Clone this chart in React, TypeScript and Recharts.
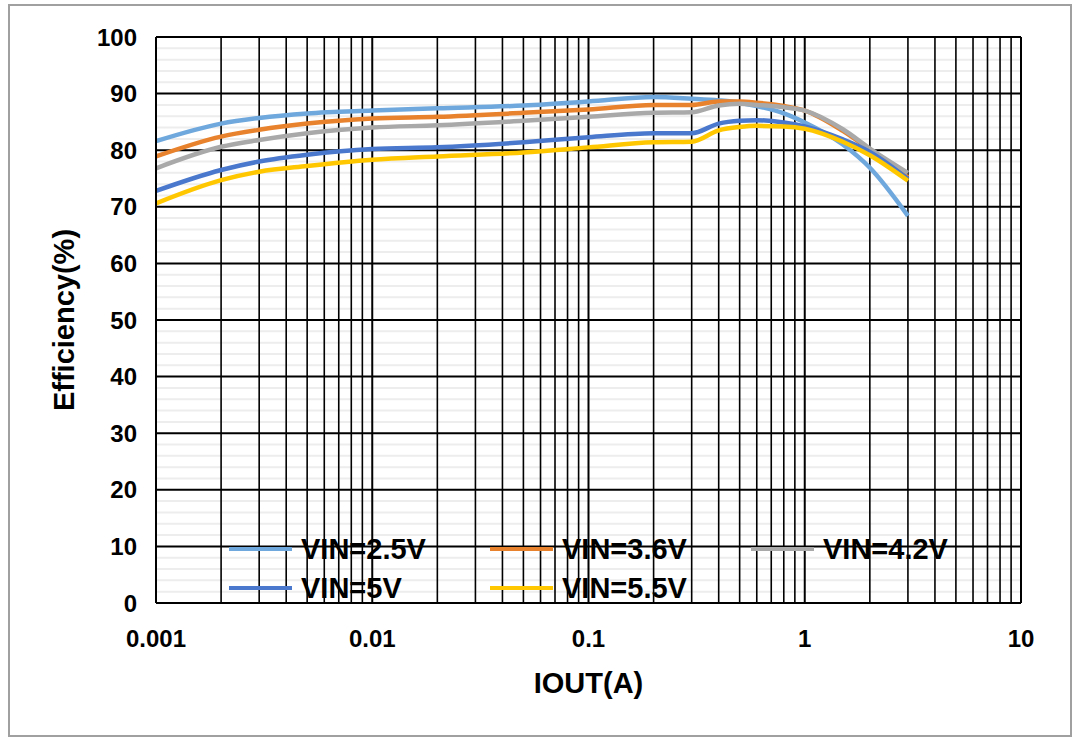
import React from 'react';
import { LineChart, Line, XAxis, YAxis, Legend, Label, ReferenceLine } from 'recharts';

const currents = [0.001, 0.002, 0.003, 0.005, 0.01, 0.02, 0.05, 0.1, 0.2, 0.3, 0.4, 0.5, 0.6, 0.8, 1, 1.5, 2, 3];
const vin25 = [81.6, 84.7, 85.7, 86.5, 87.0, 87.4, 87.9, 88.6, 89.4, 89.1, 88.8, 88.4, 87.8, 86.5, 84.9, 81.0, 76.9, 68.4];
const vin36 = [78.9, 82.4, 83.6, 84.7, 85.6, 85.9, 86.6, 87.2, 88.0, 88.0, 88.6, 88.6, 88.4, 87.8, 87.0, 83.4, 80.1, 75.2];
const vin42 = [76.8, 80.6, 81.8, 83.0, 84.0, 84.4, 85.2, 85.9, 86.6, 86.7, 87.9, 88.2, 88.0, 87.6, 87.0, 83.7, 80.3, 76.0];
const vin50 = [72.8, 76.5, 78.0, 79.2, 80.2, 80.5, 81.4, 82.3, 83.0, 83.0, 84.7, 85.2, 85.3, 84.9, 84.2, 81.9, 79.7, 74.9];
const vin55 = [70.6, 74.7, 76.2, 77.2, 78.3, 78.9, 79.6, 80.5, 81.4, 81.5, 83.5, 84.1, 84.3, 84.2, 83.8, 81.5, 79.1, 74.6];

const xTicks = [0.001, 0.01, 0.1, 1, 10];
const xMinor = [
  0.002, 0.003, 0.004, 0.005, 0.006, 0.007, 0.008, 0.009,
  0.02, 0.03, 0.04, 0.05, 0.06, 0.07, 0.08, 0.09,
  0.2, 0.3, 0.4, 0.5, 0.6, 0.7, 0.8, 0.9,
  2, 3, 4, 5, 6, 7, 8, 9,
];
const yTicks = [0, 10, 20, 30, 40, 50, 60, 70, 80, 90, 100];
const yMinor = [2, 4, 6, 8, 12, 14, 16, 18, 22, 24, 26, 28, 32, 34, 36, 38, 42, 44, 46, 48, 52, 54, 56, 58, 62, 64, 66, 68, 72, 74, 76, 78, 82, 84, 86, 88, 92, 94, 96, 98];

const seriesNames = ['VIN=2.5V', 'VIN=3.6V', 'VIN=4.2V', 'VIN=5V', 'VIN=5.5V'];
const seriesKeys = ['v25', 'v36', 'v42', 'v50', 'v55'];
const seriesColors = ['#6FA8DC', '#E8822C', '#A9A9A9', '#4A78CC', '#FFC700'];
const seriesValues = [vin25, vin36, vin42, vin50, vin55];

const data = currents.map((c, i) => {
  const row: Record<string, number> = { x: c };
  seriesKeys.forEach((k, s) => {
    row[k] = seriesValues[s][i];
  });
  return row;
});

const FONT = '"Liberation Sans", Arial, Helvetica, sans-serif';

const legendOrder = [0, 1, 2, 3, 4];

const renderLegend = () => (
  <div style={{ position: 'relative', width: 1082, height: 0 }}>
    {legendOrder.map((s, idx) => {
      const col = idx % 3;
      const row = Math.floor(idx / 3);
      const left = 229 + col * 261;
      const top = 549 + row * 39;
      return (
        <div
          key={s}
          style={{
            position: 'absolute',
            left,
            top: top - 20,
            height: 40,
            display: 'flex',
            alignItems: 'center',
            whiteSpace: 'nowrap',
          }}
        >
          <div style={{ width: 63, height: 4, background: seriesColors[s], marginRight: 9 }} />
          <span style={{ fontFamily: FONT, fontWeight: 700, fontSize: 29, color: '#000', lineHeight: '40px' }}>{seriesNames[s]}</span>
        </div>
      );
    })}
  </div>
);

export default function App() {
  return (
    <div style={{ position: 'absolute', left: 0, top: 0, width: 1082, height: 750, background: '#fff' }}>
      <LineChart
        width={1082}
        height={750}
        data={data}
        margin={{ top: 37, right: 61, bottom: 107, left: 66 }}
        style={{ fontFamily: FONT }}
      >
        {yMinor.map((v) => (
          <ReferenceLine key={'ym' + v} y={v} stroke="#EDEDED" strokeWidth={2} />
        ))}
        {xMinor.map((v) => (
          <ReferenceLine key={'xm' + v} x={v} stroke="#000" strokeWidth={1.6} />
        ))}
        {xTicks.map((v) => (
          <ReferenceLine key={'xM' + v} x={v} stroke="#000" strokeWidth={2} />
        ))}
        {yTicks.map((v) => (
          <ReferenceLine key={'yM' + v} y={v} stroke="#000" strokeWidth={2} />
        ))}
        <XAxis
          dataKey="x"
          type="number"
          scale="log"
          domain={[0.001, 10]}
          ticks={xTicks}
          allowDataOverflow
          tickFormatter={(v: number) => String(v)}
          tickLine={false}
          tickMargin={21}
          axisLine={{ stroke: '#000', strokeWidth: 2 }}
          tick={{ fill: '#000', fontSize: 24, fontWeight: 700, fontFamily: FONT }}
          height={40}
        >
          <Label
            content={({ viewBox }: any) => (
              <text
                x={viewBox.x + viewBox.width / 2}
                y={viewBox.y + 90}
                textAnchor="middle"
                fontFamily={FONT}
                fontWeight={700}
                fontSize={29}
                fill="#000"
              >
                IOUT(A)
              </text>
            )}
          />
        </XAxis>
        <YAxis
          type="number"
          domain={[0, 100]}
          ticks={yTicks}
          interval={0}
          tickLine={false}
          tickMargin={13}
          width={90}
          axisLine={{ stroke: '#000', strokeWidth: 2 }}
          tick={{ fill: '#000', fontSize: 24, fontWeight: 700, fontFamily: FONT }}
        >
          <Label
            content={({ viewBox }: any) => {
              const cx = viewBox.x + 8;
              const cy = viewBox.y + viewBox.height / 2;
              return (
                <text
                  x={cx}
                  y={cy}
                  transform={`rotate(-90, ${cx}, ${cy})`}
                  textAnchor="middle"
                  fontFamily={FONT}
                  fontWeight={700}
                  fontSize={29}
                  fill="#000"
                >
                  Efficiency(%)
                </text>
              );
            }}
          />
        </YAxis>
        <Legend content={renderLegend} wrapperStyle={{ left: 0, top: 0, width: 1082, height: 0 }} />
        {seriesKeys.map((k, s) => (
          <Line
            key={k}
            dataKey={k}
            name={seriesNames[s]}
            type="monotone"
            stroke={seriesColors[s]}
            strokeWidth={4.5}
            dot={false}
            activeDot={false}
            isAnimationActive={false}
          />
        ))}
      </LineChart>
      <div
        style={{
          position: 'absolute',
          left: 8,
          top: 4,
          width: 1064,
          height: 733,
          boxSizing: 'border-box',
          border: '2px solid #A0A0A0',
          pointerEvents: 'none',
        }}
      />
    </div>
  );
}
